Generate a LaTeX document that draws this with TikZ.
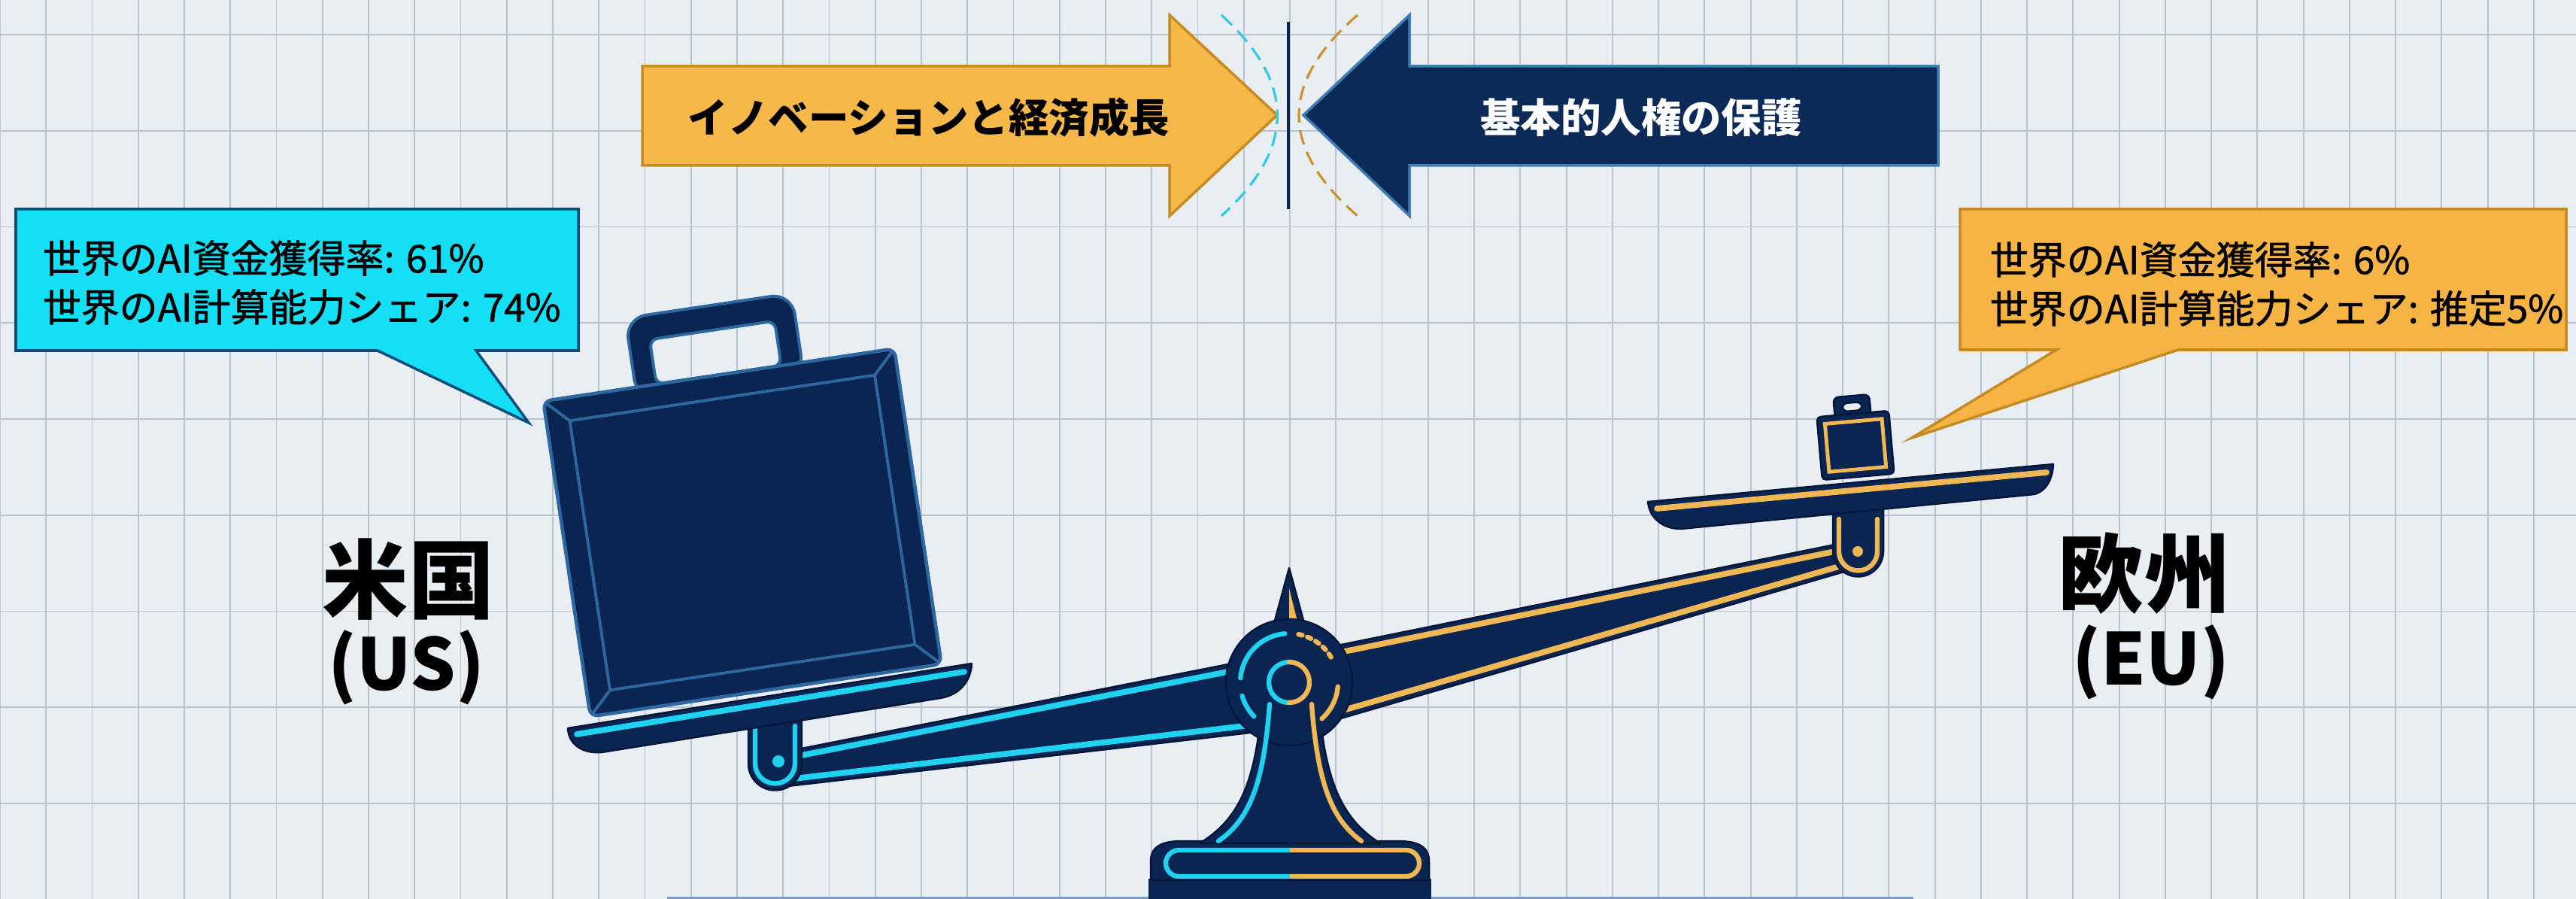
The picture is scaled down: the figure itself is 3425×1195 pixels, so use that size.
\documentclass[tikz,border=0pt]{standalone}
\usepackage{fontspec}
\newfontfamily\jp{Noto Sans CJK JP}
\newfontfamily\jpm[FakeBold=1.2]{Noto Sans CJK JP}
\definecolor{bg}{HTML}{E9EEF2}
\definecolor{gridc}{HTML}{B9C2CD}
\definecolor{navy}{HTML}{0B2552}
\definecolor{navyedge}{HTML}{06163A}
\definecolor{bevel}{HTML}{2D67A0}
\definecolor{cyanS}{HTML}{20D2F0}
\definecolor{orangeS}{HTML}{F0B755}
\definecolor{calC}{HTML}{14DFF5}
\definecolor{calCedge}{HTML}{0C4E78}
\definecolor{calO}{HTML}{F5B444}
\definecolor{calOedge}{HTML}{C58A22}
\definecolor{arrY}{HTML}{F6B848}
\definecolor{arrYedge}{HTML}{C58C22}
\definecolor{arrN}{HTML}{0B2A57}
\definecolor{arrNedge}{HTML}{3F7DB5}
\definecolor{dashC}{HTML}{33C9E0}
\definecolor{dashO}{HTML}{C9922E}
\definecolor{botline}{HTML}{7E9CC2}
\begin{document}
\begin{tikzpicture}[x=0.01cm,y=-0.01cm,
  gridline/.style={draw=gridc, line width=0.55pt},
  navyshape/.style={fill=navy, draw=navyedge, line width=0.7pt, line join=round},
  stripeC/.style={draw=cyanS, line width=2.2pt, line cap=round},
  stripeO/.style={draw=orangeS, line width=2.2pt, line cap=round},
  thinC/.style={draw=cyanS, line width=1.8pt, line cap=round},
  thinO/.style={draw=orangeS, line width=1.8pt, line cap=round},
  bevelline/.style={draw=bevel, line width=1.1pt},
  calltext/.style={font=\jpm\fontsize{14.5}{17}\selectfont, text=black, inner sep=0pt, anchor=west},
  arrowtext/.style={font=\jp\bfseries\fontsize{15.2}{18}\selectfont, inner sep=0pt},
  bigname/.style={font=\jp\bfseries\fontsize{32.5}{36}\selectfont, text=black, inner sep=0pt},
  abbrev/.style={font=\jp\bfseries\fontsize{27}{30}\selectfont, text=black, inner sep=0pt}]

% paper and grid
\fill[bg] (0,0) rectangle (3425,1195);
\useasboundingbox (0,0) rectangle (3425,1195);
\foreach \i in {0,...,56} \draw[gridline] ({\i*61.25},0) -- ({\i*61.25},1195);
\foreach \j in {0,...,8} \draw[gridline] (0,{46+\j*127.75}) -- (3425,{46+\j*127.75});
\fill[botline] (887,1192) rectangle (2544,1195);

% opposing arrows
\draw[fill=arrY, draw=arrYedge, line width=1pt, line join=miter]
  (854,88) -- (1555,88) -- (1555,20) -- (1698,153) -- (1555,287) -- (1555,220) -- (854,220) -- cycle;
\node[arrowtext, text=black] (innov) at (1235,156) {イノベーションと経済成長};
\draw[fill=arrN, draw=arrNedge, line width=1pt, line join=miter]
  (2577,88) -- (1874,88) -- (1874,20) -- (1733,153) -- (1874,287) -- (1874,220) -- (2577,220) -- cycle;
\node[arrowtext, text=white] (rights) at (2182,156) {基本的人権の保護};
\draw[navy, line width=1.4pt] (1713,29) -- (1713,278);
\draw[dashC, line width=0.9pt, dash pattern=on 5.5pt off 3pt] (1624,20) .. controls (1723,110) and (1723,197) .. (1624,287);
\draw[dashO, line width=0.9pt, dash pattern=on 5.5pt off 3pt] (1805,20) .. controls (1701,110) and (1701,197) .. (1805,287);

% callouts
\draw[fill=calC, draw=calCedge, line width=1pt, line join=miter]
  (21,278) -- (769,278) -- (769,466) -- (633,466) -- (703,562) -- (502,466) -- (21,466) -- cycle;
\node[calltext] (usfund) at (56,343) {世界のAI資金獲得率: 61\%};
\node[calltext] (uscomp) at (56,408) {世界のAI計算能力シェア: 74\%};
\draw[fill=calO, draw=calOedge, line width=1pt, line join=miter]
  (2606,278) -- (3412,278) -- (3412,465) -- (2896,465) -- (2542,582) -- (2734,465) -- (2606,465) -- cycle;
\node[calltext] (eufund) at (2645,345) {世界のAI資金獲得率: 6\%};
\node[calltext] (eucomp) at (2645,410) {世界のAI計算能力シェア: 推定5\%};

% beam arms
\draw[navyshape] (1030,1002) -- (1714,867) -- (1714,968) -- (1030,1047) -- cycle;
\draw[stripeC] (1030,1011) -- (1714,877);
\draw[stripeC] (1030,1038) -- (1714,958);
\draw[navyshape] (1714,871) -- (2469,718) -- (2469,755) -- (1714,975) -- cycle;
\draw[stripeO] (1714,881) -- (2469,727);
\draw[stripeO] (1714,965) -- (2469,746);

% pedestal
\fill[navy] (1527,1168) rectangle (1903,1200);
\draw[navyshape] (1530,1170) -- (1530,1145) .. controls (1530,1125) and (1545,1118) .. (1572,1118)
  -- (1858,1118) .. controls (1885,1118) and (1900,1125) .. (1900,1145) -- (1900,1170) -- cycle;
\begin{scope}
  \clip (1500,1100) rectangle (1715,1185);
  \draw[thinC, rounded corners=5pt] (1550,1130) rectangle (1887,1165);
\end{scope}
\begin{scope}
  \clip (1715,1100) rectangle (1930,1185);
  \draw[thinO, rounded corners=5pt] (1550,1130) rectangle (1887,1165);
\end{scope}
\draw[navyshape] (1678,900) -- (1678,930) .. controls (1670,1045) and (1645,1090) .. (1595,1121)
  -- (1835,1121) .. controls (1787,1090) and (1762,1045) .. (1753,930) -- (1753,900) -- cycle;

% pointer and hub
\draw[navyshape] (1714,755) -- (1735,832) -- (1693,832) -- cycle;
\fill[orangeS] (1714,782) -- (1726,830) -- (1714,830) -- cycle;
\draw[navyshape] (1714,907) circle[radius=84];
\draw[thinC] (1714,880) arc(270:90:27);
\draw[thinO] (1714,880) arc(-90:90:27);
\draw[thinC] (1714,907) ++(265:65) arc(265:185:65);
\draw[thinC] (1714,907) ++(164:65) arc(164:136:65);
\draw[thinO, dash pattern=on 1.5pt off 2pt] (1714,907) ++(281:65) arc(281:335:65);
\draw[thinO] (1714,907) ++(5:65) arc(5:48:65);
\draw[thinC] (1688,936) .. controls (1680,1045) and (1660,1090) .. (1620,1118);
\draw[thinO] (1744,936) .. controls (1752,1045) and (1772,1090) .. (1810,1118);

% left hanger and pan
\draw[navyshape] (995,955) -- (995,1015) arc(180:0:35.5) -- (1066,955) -- cycle;
\draw[thinC] (1004,965) -- (1004,1015) arc(180:0:26.5) -- (1057,965);
\fill[cyanS] (1035,1012) circle[radius=8];

% heavy briefcase
\begin{scope}[shift={(987,708)}, rotate=8.5]
  \filldraw[fill=navy, draw=bevel, line width=1.1pt, even odd rule]
    [rounded corners=8pt] (-112,-305) rectangle (112,-195)
    [rounded corners=3pt] (-84,-272) rectangle (84,-212);
  \filldraw[fill=navy, draw=bevel, line width=1.3pt, rounded corners=3pt] (-236,-212) rectangle (236,212);
  \draw[bevelline] (-205,-181) rectangle (205,181);
  \draw[bevelline] (-233,-209) -- (-205,-181);
  \draw[bevelline] (233,-209) -- (205,-181);
  \draw[bevelline] (233,209) -- (205,181);
  \draw[bevelline] (-233,209) -- (-205,181);
\end{scope}
\draw[navyshape] (755,968) -- (1292,882) .. controls (1291,905) and (1276,924) .. (1250,928)
  -- (800,1000) .. controls (775,1002) and (756,990) .. cycle;
\draw[stripeC] (767,976) -- (1282,893);

% right hanger and pan
\draw[navyshape] (2437,675) -- (2437,733) arc(180:0:33.5) -- (2504,675) -- cycle;
\draw[thinO] (2445,690) -- (2445,733) arc(180:0:25.5) -- (2496,690);
\fill[orangeS] (2470,733) circle[radius=7];
\draw[navyshape] (2191,667) -- (2730,617) .. controls (2729,635) and (2722,652) .. (2705,657)
  -- (2235,703) .. controls (2210,703) and (2193,688) .. cycle;
\draw[stripeO] (2203,676) -- (2721,628);

% light briefcase
\begin{scope}[shift={(2467,592)}, rotate=5]
  \filldraw[fill=navy, draw=navyedge, line width=0.7pt, even odd rule, rounded corners=2pt]
    (-24,-66) rectangle (24,-38) (-13,-57) rectangle (13,-46);
  \filldraw[fill=navy, draw=navyedge, line width=0.7pt, rounded corners=1.5pt] (-48,-42) rectangle (48,42);
  \draw[orangeS, line width=1.4pt] (-38,-32) rectangle (38,32);
\end{scope}

% region labels
\node[bigname] (usname) at (543,770) {米国};
\node[abbrev] (usabbr) at (540,887) {(US)};
\node[bigname] (euname) at (2851,762) {欧州};
\node[abbrev] (euabbr) at (2860,880) {(EU)};
\end{tikzpicture}
\end{document}
